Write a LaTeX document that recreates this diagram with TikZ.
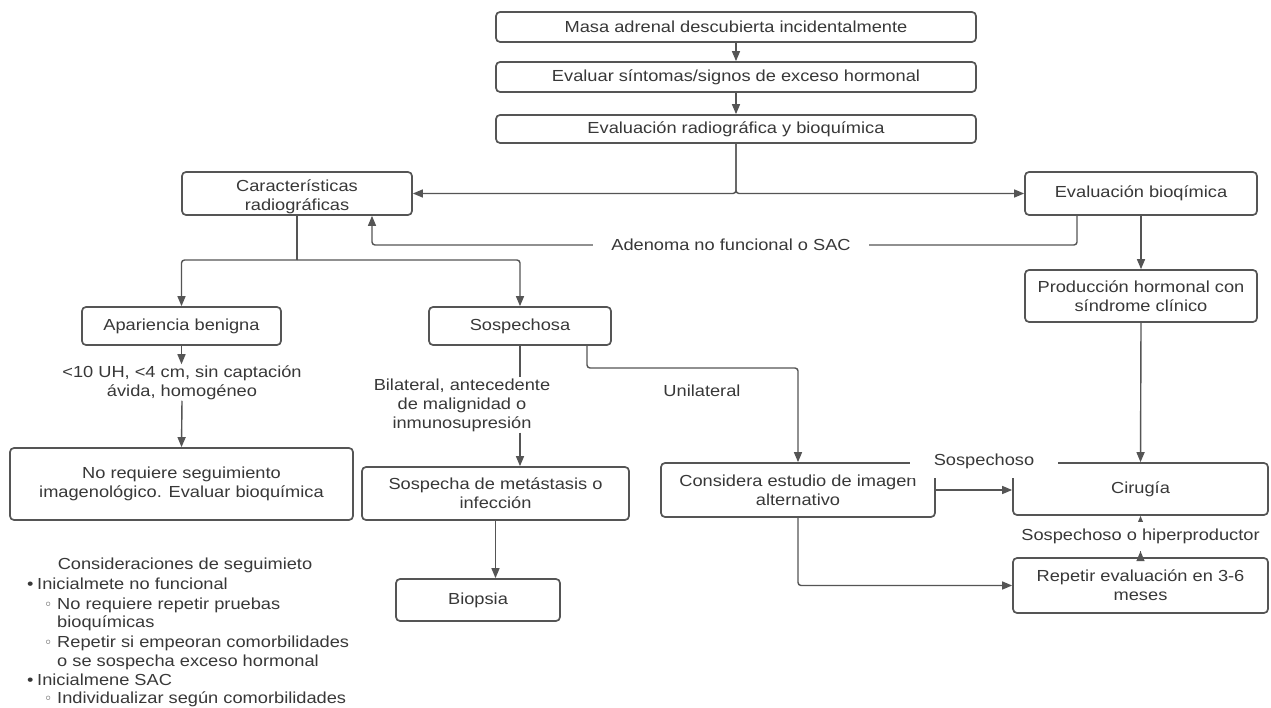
\documentclass[tikz,border=0pt]{standalone}
\usepackage{fontspec}
\setmainfont{Liberation Sans}[FakeStretch=1.14]
\newfontfamily\dvfont{DejaVu Sans}
\usetikzlibrary{arrows.meta}
\definecolor{lncol}{HTML}{555555}
\definecolor{txcol}{HTML}{383838}
\begin{document}
\begin{tikzpicture}[x=1pt,y=-1pt,
  font=\fontsize{16}{19}\selectfont, text=txcol,
  box/.style={draw=lncol, line width=1.7pt, rounded corners=4pt, align=center, inner sep=0pt},
  plain/.style={draw=lncol, line width=1.4pt},
  arr/.style={plain, -{Triangle[length=10pt,width=8pt]}},
  lbl/.style={align=center, inner sep=1pt},
  wlbl/.style={lbl, fill=white},
  note/.style={anchor=west, inner sep=0pt, text height=12pt, text depth=3.5pt},
  subb/.style={note, font=\dvfont\fontsize{14}{14}\selectfont}]
\useasboundingbox[fill=white] (0,0) rectangle (1271,708);

% boxes
\node[box, minimum width=480pt, minimum height=30pt] (masa) at (736,27) {Masa adrenal descubierta incidentalmente};
\node[box, minimum width=480pt, minimum height=30pt] (evsin) at (736,77) {Evaluar síntomas/signos de exceso hormonal};
\node[box, minimum width=480pt, minimum height=28pt] (evrad) at (736,129) {Evaluación radiográfica y bioquímica};
\node[box, minimum width=230pt, minimum height=43pt, text height=38pt] (carac) at (297,193.5) {Características\\radiográficas};
\node[box, minimum width=232pt, minimum height=43pt] (evbio) at (1141,193.5) {Evaluación bioqímica};
\node[box, minimum width=232pt, minimum height=52pt] (prod) at (1141,296) {Producción hormonal con\\síndrome clínico};
\node[box, minimum width=199pt, minimum height=38pt] (apar) at (181.5,326) {Apariencia benigna};
\node[box, minimum width=182pt, minimum height=38pt] (sosp) at (520,326) {Sospechosa};
\node[box, minimum width=343pt, minimum height=72pt] (noreq) at (181.5,484) {No requiere seguimiento\\imagenológico. Evaluar bioquímica};
\node[box, minimum width=267pt, minimum height=53pt] (sospmet) at (495.5,493.5) {Sospecha de metástasis o\\infección};
\node[box, minimum width=274pt, minimum height=54pt] (consid) at (798,490) {Considera estudio de imagen\\alternativo};
\node[box, minimum width=255pt, minimum height=52pt] (cirugia) at (1140.5,489) {Cirugía};
\node[box, minimum width=255pt, minimum height=55pt] (repetir) at (1140.5,585.5) {Repetir evaluación en 3-6\\meses};
\node[box, minimum width=164pt, minimum height=42pt] (biopsia) at (478,600) {Biopsia};

% labels on the left branches
\node[lbl] (lbl1) at (182,382.5) {<10 UH, <4 cm, sin captación\\ávida, homogéneo};
\node[lbl] (lbl2) at (462,405) {Bilateral, antecedente\\de malignidad o\\inmunosupresión};
\node[lbl] (uni) at (702,391) {Unilateral};

% top chain
\draw[arr] (masa.south) -- (evsin.north);
\draw[arr] (evsin.south) -- (evrad.north);
\draw[arr, rounded corners=3pt] (evrad.south) |- (carac.east);
\draw[arr, rounded corners=3pt] (evrad.south) |- (evbio.west);

% adenoma feedback
\coordinate (adpos) at (731,245);
\draw[arr, rounded corners=3pt] ([xshift=-64pt]evbio.south) |- (adpos) -| ([xshift=75pt]carac.south);
\node[wlbl, inner xsep=18pt, inner ysep=4pt] (adlbl) at (adpos) {Adenoma no funcional o SAC};

% radiographic split
\coordinate (cs) at (297,260);
\draw[plain] (carac.south) -- (cs);
\draw[arr, rounded corners=3pt] (cs) -| (apar.north);
\draw[arr, rounded corners=3pt] (cs) -| (sosp.north);

% benign branch
\draw[arr] (apar.south) -- (apar.south |- lbl1.north);
\draw[arr] (lbl1.south) -- (noreq.north);

% suspicious branch
\draw[plain] (sosp.south) -- (sosp.south |- lbl2.north);
\draw[arr] (sosp.south |- lbl2.south) -- (sosp.south |- sospmet.north);
\draw[arr] (sospmet.south) -- (sospmet.south |- biopsia.north);
\coordinate (k1) at (798,368);
\draw[arr, rounded corners=3pt] ([xshift=67pt]sosp.south) |- (k1) -- (consid.north);
\draw[arr, rounded corners=3pt] (consid.south) |- (repetir.west);
\draw[arr] (consid.east) -- (consid.east -| cirugia.west);

% biochemical branch
\draw[arr] (evbio.south) -- (prod.north);
\draw[arr] (prod.south) -- (cirugia.north);
\draw[arr] (repetir.north) -- node[wlbl, inner ysep=7pt] (hiper) {Sospechoso o hiperproductor} (cirugia.south);
\draw[arr] (repetir.north) -- ++(0,-6);

% white label over box corners
\node[fill=white, minimum width=148pt, minimum height=34pt, inner sep=0pt] (sospchlbl) at (984,461) {Sospechoso};

% follow-up notes
\node[lbl] (ntitle) at (185,565) {Consideraciones de seguimieto};
\node[note] (n1b) at (27,585) {•};
\node[note] (n1) at (37,585) {Inicialmete no funcional};
\node[subb] (n2b) at (44,605) {◦};
\node[note] (n2) at (57,605) {No requiere repetir pruebas};
\node[note] (n3) at (57,623) {bioquímicas};
\node[subb] (n4b) at (44,643) {◦};
\node[note] (n4) at (57,643) {Repetir si empeoran comorbilidades};
\node[note] (n5) at (57,662) {o se sospecha exceso hormonal};
\node[note] (n6b) at (27,681) {•};
\node[note] (n6) at (37,681) {Inicialmene SAC};
\node[subb] (n7b) at (44,699) {◦};
\node[note] (n7) at (57,699) {Individualizar según comorbilidades};
\end{tikzpicture}
\end{document}
